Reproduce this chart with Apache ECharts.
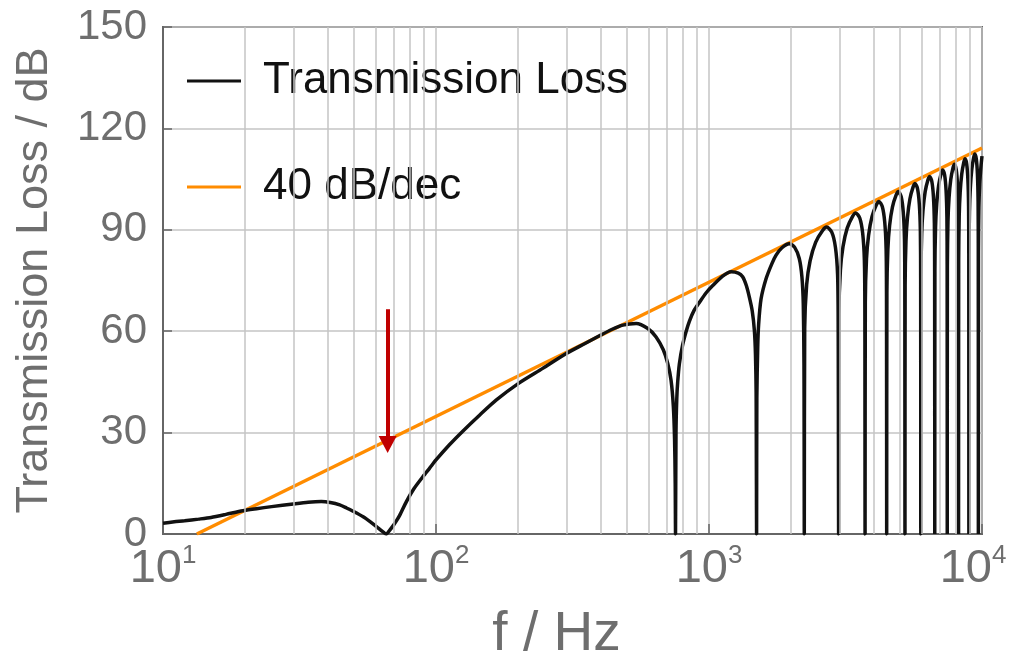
<!DOCTYPE html>
<html>
<head>
<meta charset="utf-8">
<script src="https://cdn.jsdelivr.net/npm/echarts@6/dist/echarts.min.js"></script>
<style>
html,body{margin:0;padding:0;background:#fff;}
#chart{width:1014px;height:658px;}
</style>
</head>
<body>
<div id="chart"></div>
<script>
// ---- data ----
// Transmission loss: [frequency Hz, dB]
const tlLowBand = [[10,3.2],[11,3.6],[12,3.9],[13.5,4.4],[15,4.9],[17,5.8],[19.6,6.9],[22,7.5],[25,8.1],[30,8.9],[34,9.4],[38,9.6],[41,9.3],[44.4,8.6],[47,7.7],[49.5,6.8],[54.1,5.1],[57.5,3.6],[60.5,2.2],[63.8,0.7],[65.8,0],
  [67.5,1.0],[69.6,2.4],[71.5,3.8],[73.6,5.5],[77.9,9.6],[83,13.4],[89.6,17.0],[94.8,19.5],[100,21.9],[112,26.4],[125.6,30.5],[145,35.3],[166,39.6],[200,44.5],[246,49.0],
  [300,53.4],[350,56.3],[400,58.8],[440,60.5],[483,61.8],[541,62.3],[597,60.8],[640,58.3],[680,54.5],[706,50.5],[726,45.5],[740,38],[748,28],[752,15],[754,0]];
const tlArch1 = [[757,30],[762,40],[768,45],[779,50.4],[801,56],[825,60],[848,63],[880,66],[922,68.5],[975,71.3],[1032,73.5],[1122,76.3],[1205,77.6],[1280,77.2],[1328,76.1],
  [1370,73.5],[1406,70],[1440,66],[1466,60.3],[1480,53],[1488,42],[1494,0]];
const tlArch2 = [[1497,40],[1508,55],[1520,62],[1551,69.5],[1618,75.5],[1700,80],[1761,82.5],[1850,84.7],[1968,85.9],[2060,84.8],[2141,81.5],
  [2190,76],[2215,68],[2228,50],[2234,0]];
const tlArch3 = [[2241.5,60.8],[2279,73.8],[2346,80.8],[2458,86.3],[2607,89.8],[2697,90.8],[2816,89.3],[2905,84.8],[2958,76.8],[2973,62.8],[2984,0]];
const tlArch4 = [[2991.5,65],[3029,78],[3096,85],[3208,90.5],[3357,94],[3447,95],[3566,93.5],[3655,89],[3708,81],[3723,67],[3730,0]];
const tlArch5 = [[3737.5,68.4],[3775,81.4],[3842,88.4],[3954,93.9],[4103,97.4],[4193,98.4],[4312,96.9],[4401,92.4],[4454,84.4],[4469,70.4],[4476,0]];
const tlArch6 = [[4483.5,71.3],[4521,84.3],[4588,91.3],[4700,96.8],[4849,100.3],[4939,101.3],[5058,99.8],[5147,95.3],[5200,87.3],[5215,73.3],[5222,0]];
const tlArch7 = [[5229.5,73.7],[5267,86.7],[5334,93.7],[5446,99.2],[5595,102.7],[5685,103.7],[5804,102.2],[5893,97.7],[5946,89.7],[5961,75.7],[5968,0]];
const tlArch8 = [[5975.5,75.8],[6013,88.8],[6080,95.8],[6192,101.3],[6341,104.8],[6431,105.8],[6550,104.3],[6639,99.8],[6692,91.8],[6707,77.8],[6714,0]];
const tlArch9 = [[6721.5,77.7],[6759,90.7],[6826,97.7],[6938,103.2],[7087,106.7],[7177,107.7],[7296,106.2],[7385,101.7],[7438,93.7],[7453,79.7],[7460,0]];
const tlArch10 = [[7467.5,79.4],[7505,92.4],[7572,99.4],[7684,104.9],[7833,108.4],[7923,109.4],[8042,107.9],[8131,103.4],[8184,95.4],[8199,81.4],[8206,0]];
const tlArch11 = [[8213.5,81],[8251,94],[8318,101],[8430,106.5],[8579,110],[8669,111],[8788,109.5],[8877,105],[8930,97],[8945,83],[8952,0]];
const tlArch12 = [[8959.5,82.4],[8997,95.4],[9064,102.4],[9176,107.9],[9325,111.4],[9415,112.4],[9534,110.9],[9623,106.4],[9676,98.4],[9691,84.4],[9698,0]];
const tlArch13 = [[9705.5,83.6],[9743,96.6],[9810,103.6],[9922,109.1],[10000,111.8]];

// 40 dB/dec reference line
const slopeLine = [[13.3,0],[10000,114.2]];

// red arrow marking the first resonance dip
const arrowFreq = 66.5;
const arrowTop = 66.5;
const arrowEnd = 26.5;

// axis ticks
const yTicks = [0,30,60,90,120,150];
const xDecades = [10,100,1000,10000];
const xMinorGrid = [20,30,40,50,60,70,80,90,200,300,400,500,600,700,800,900,2000,3000,4000,5000,6000,7000,8000,9000];

const seriesNames = ['Transmission Loss','40 dB/dec'];

const transmissionLoss = [].concat(tlLowBand, tlArch1, tlArch2, tlArch3, tlArch4, tlArch5, tlArch6,
  tlArch7, tlArch8, tlArch9, tlArch10, tlArch11, tlArch12, tlArch13);

const chart = echarts.init(document.getElementById('chart'), null, {renderer:'canvas'});
const gridColor = '#c4c4c4';
const frameColor = '#666666';
const labelColor = '#6e6e6e';
const font = 'Liberation Sans, Arial, sans-serif';

chart.setOption({
  animation: false,
  backgroundColor: '#ffffff',
  grid: {left:163, right:32, top:27, bottom:124, show:true, borderColor:frameColor, borderWidth:2,
         backgroundColor:'transparent', containLabel:false, outerBoundsMode:'none'},
  legend: {
    data: seriesNames,
    orient: 'vertical',
    left: 182, top: 54,
    itemWidth: 54, itemHeight: 3, itemGap: 62,
    icon: 'rect',
    textStyle: {fontSize: 44, color:'#111111', fontFamily: font, padding:[0,0,0,17]}
  },
  xAxis: {
    type: 'log', logBase: 10, min: xDecades[0], max: xDecades[xDecades.length-1],
    name: 'f / Hz', nameLocation: 'middle', nameGap: 73,
    nameTextStyle: {fontSize: 55, color: labelColor, fontFamily: font, padding:[0,32,0,0]},
    axisLine: {show:true, lineStyle:{color:frameColor, width:2}},
    axisTick: {show:true, inside:true, length:10, lineStyle:{color:frameColor, width:1.5}},
    splitLine: {show:true, lineStyle:{color:gridColor, width:1.5}},
    axisLabel: {
      margin: 9,
      formatter: function(v){
        const e = Math.round(Math.log10(v));
        const last = e === Math.round(Math.log10(xDecades[xDecades.length-1]));
        return '{b|10}{s|' + e + '}' + (last ? '{pad|}' : '');
      },
      rich: {
        b: {fontSize: 47, color: labelColor, fontFamily: font, verticalAlign:'bottom', lineHeight: 50},
        s: {fontSize: 26, color: labelColor, fontFamily: font, verticalAlign:'top', lineHeight: 50, padding:[0,0,20,0]},
        pad: {width: 18, lineHeight: 50}
      }
    }
  },
  yAxis: {
    type: 'value', min: yTicks[0], max: yTicks[yTicks.length-1], interval: yTicks[1]-yTicks[0],
    name: 'Transmission Loss / dB', nameLocation: 'middle', nameGap: 106, nameRotate: 90,
    nameTextStyle: {fontSize: 45, color: labelColor, fontFamily: font},
    axisLine: {show:true, lineStyle:{color:frameColor, width:2}},
    axisTick: {show:true, inside:true, length:9, lineStyle:{color:frameColor, width:1.5}},
    splitLine: {show:true, lineStyle:{color:gridColor, width:1.5}},
    axisLabel: {fontSize: 42, color: labelColor, fontFamily: font, margin: 16}
  },
  series: [
    {
      name: 'minor grid', type: 'line', data: [], z: 1, silent: true,
      markLine: {
        silent: true, symbol: ['none','none'], animation:false,
        label: {show:false},
        lineStyle: {color: gridColor, width: 1.5, type:'solid'},
        data: xMinorGrid.map(function(v){ return {xAxis: v}; })
      }
    },
    {
      name: seriesNames[1], type: 'line', data: slopeLine, z: 3,
      showSymbol: false, symbol: 'none',
      lineStyle: {color:'#ff8c00', width: 3.5}, itemStyle: {color:'#ff8c00'}
    },
    {
      name: seriesNames[0], type: 'line', data: transmissionLoss, z: 4,
      showSymbol: false, symbol: 'none', smooth: 0.25,
      lineStyle: {color:'#111111', width: 3.5}, itemStyle: {color:'#111111'}
    },
    {
      name: 'arrow', type: 'line', data: [], z: 5, silent: true,
      markLine: {
        silent: true, symbol: ['none','triangle'], symbolSize: [18,17], animation:false,
        label: {show:false},
        lineStyle: {color:'#c00000', width: 4, type:'solid'},
        itemStyle: {color:'#c00000'},
        data: [[{coord:[arrowFreq, arrowTop]}, {coord:[arrowFreq, arrowEnd]}]]
      }
    }
  ]
});
</script>
</body>
</html>
